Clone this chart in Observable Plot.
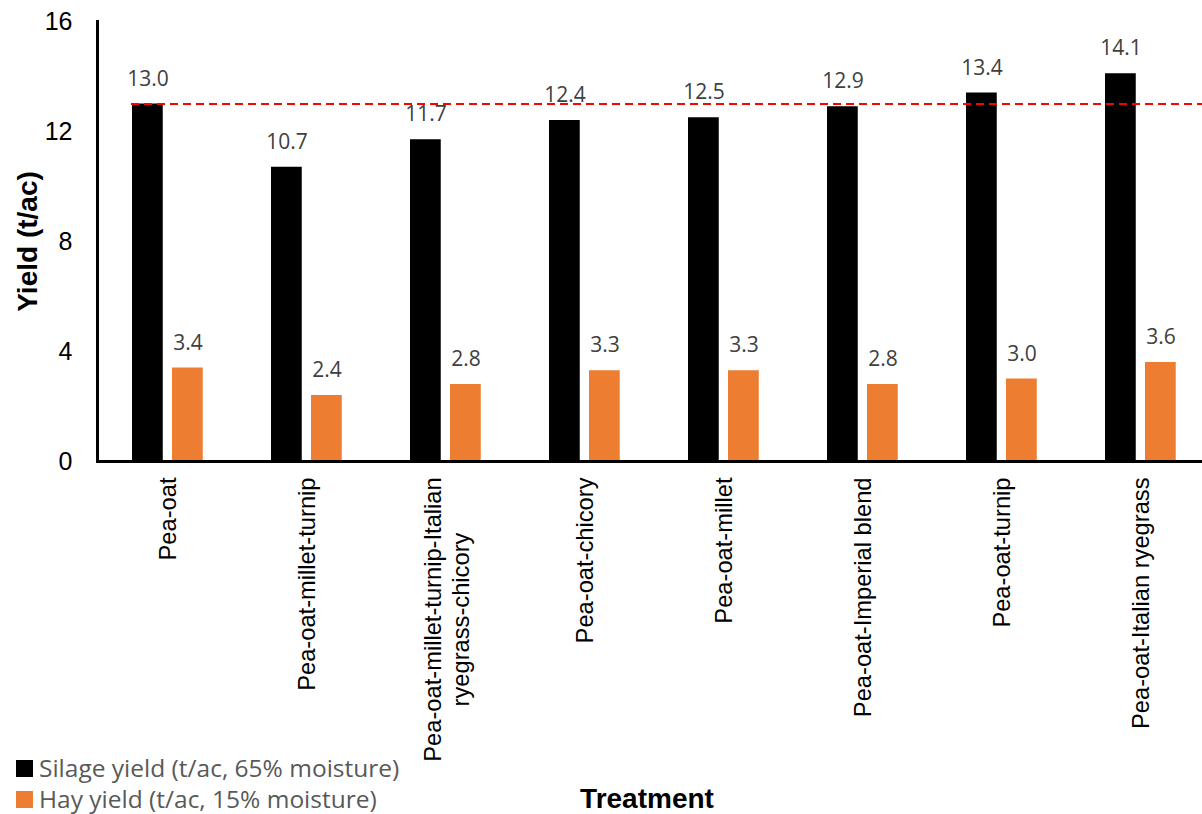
<!DOCTYPE html>
<html>
<head>
<meta charset="utf-8">
<script src="https://cdn.jsdelivr.net/npm/d3@7"></script>
<script src="https://cdn.jsdelivr.net/npm/@observablehq/plot@0.6"></script>
<style>
  html, body { margin: 0; padding: 0; background: #fff; overflow: hidden; }
  #wrap { position: relative; width: 1202px; height: 814px; }
  .leg-row { position: absolute; left: 16px; height: 34px; line-height: 34px; display: flex; align-items: center;
             font-family: "Open Sans", sans-serif; font-size: 24.5px; color: #595959; white-space: nowrap; }
  .leg-sw { width: 17px; height: 17px; margin-right: 6px; flex: none; }
</style>
</head>
<body>
<div id="wrap"></div>
<script>
// ---- data ----
const treatments = [
  "Pea-oat",
  "Pea-oat-millet-turnip",
  "Pea-oat-millet-turnip-Italian\nryegrass-chicory",
  "Pea-oat-chicory",
  "Pea-oat-millet",
  "Pea-oat-Imperial blend",
  "Pea-oat-turnip",
  "Pea-oat-Italian ryegrass"
];
const silageYield = [13.0, 10.7, 11.7, 12.4, 12.5, 12.9, 13.4, 14.1];
const hayYield = [3.4, 2.4, 2.8, 3.3, 3.3, 2.8, 3.0, 3.6];
const yTicks = [0, 4, 8, 12, 16];
const seriesNames = ["Silage yield (t/ac, 65% moisture)", "Hay yield (t/ac, 15% moisture)"];
const seriesColors = ["#000000", "#ED7D31"];
const referenceYield = [13.0];
const yLabel = "Yield (t/ac)";
const xLabel = "Treatment";

// ---- table ----
const rows = treatments.map((t, i) => ({treatment: t, silage: silageYield[i], hay: hayYield[i]}));
const fmt = d3.format(".1f");
const singleLine = treatments.filter(t => !t.includes("\n"));
const multiLine = treatments.filter(t => t.includes("\n"));

const bw = (1211 - 97) / treatments.length;
const sans = "'Liberation Sans', Arial, sans-serif";

const chart = Plot.plot({
  width: 1202,
  height: 814,
  marginLeft: 97,
  marginRight: 0,
  marginTop: 21,
  marginBottom: 353,
  style: {fontFamily: sans, fontSize: "25px", color: "#000", background: "#fff"},
  x: {type: "band", domain: treatments, range: [97, 1211], padding: 0, axis: null},
  y: {domain: [0, 16], ticks: yTicks, tickSize: 0, tickPadding: 25, label: null, tickFormat: d3.format("d")},
  marks: [
    Plot.barY(rows, {x: "treatment", y: "silage", fill: seriesColors[0], insetLeft: 34, insetRight: bw - 65}),
    Plot.barY(rows, {x: "treatment", y: "hay", fill: seriesColors[1], insetLeft: 74, insetRight: bw - 105}),
    Plot.ruleY(referenceYield, {stroke: "#FF0000", strokeWidth: 2, strokeDasharray: "8,5", insetLeft: 34}),
    Plot.text(rows, {x: "treatment", y: "silage", text: d => fmt(d.silage), dx: -20, dy: -25,
      fontFamily: "'Open Sans', sans-serif", fontSize: 21, fill: "#404040"}),
    Plot.text(rows, {x: "treatment", y: "hay", text: d => fmt(d.hay), dx: 20, dy: -25,
      fontFamily: "'Open Sans', sans-serif", fontSize: 21, fill: "#404040"}),
    Plot.ruleY([0], {stroke: "#000", strokeWidth: 3}),
    Plot.frame({anchor: "left", stroke: "#000", strokeWidth: 3}),
    Plot.text(singleLine, {x: d => d, frameAnchor: "bottom", rotate: -90, textAnchor: "end", lineAnchor: "middle",
      dy: 16, fontFamily: sans, fontSize: 23.7, fill: "#000"}),
    Plot.text(multiLine, {x: d => d, frameAnchor: "bottom", rotate: -90, textAnchor: "middle", lineAnchor: "middle",
      dy: 158, lineHeight: 1.2, fontFamily: sans, fontSize: 23.7, fill: "#000"}),
    Plot.text([yLabel], {frameAnchor: "left", rotate: -90, textAnchor: "middle", lineAnchor: "middle", dx: -69,
      fontWeight: "bold", fontSize: 28, fontFamily: sans, fill: "#000"}),
    Plot.text([xLabel], {frameAnchor: "bottom", textAnchor: "middle", lineAnchor: "middle", dy: 338, dx: -3,
      fontWeight: "bold", fontSize: 28, fontFamily: sans, fill: "#000"})
  ]
});
const wrap = document.getElementById("wrap");
wrap.appendChild(chart);

// legend
const tops = [751, 782];
seriesNames.forEach((name, i) => {
  const row = document.createElement("div");
  row.className = "leg-row";
  row.style.top = tops[i] + "px";
  const sw = document.createElement("span");
  sw.className = "leg-sw";
  sw.style.background = seriesColors[i];
  const lbl = document.createElement("span");
  lbl.textContent = name;
  row.appendChild(sw);
  row.appendChild(lbl);
  wrap.appendChild(row);
});
</script>
</body>
</html>
